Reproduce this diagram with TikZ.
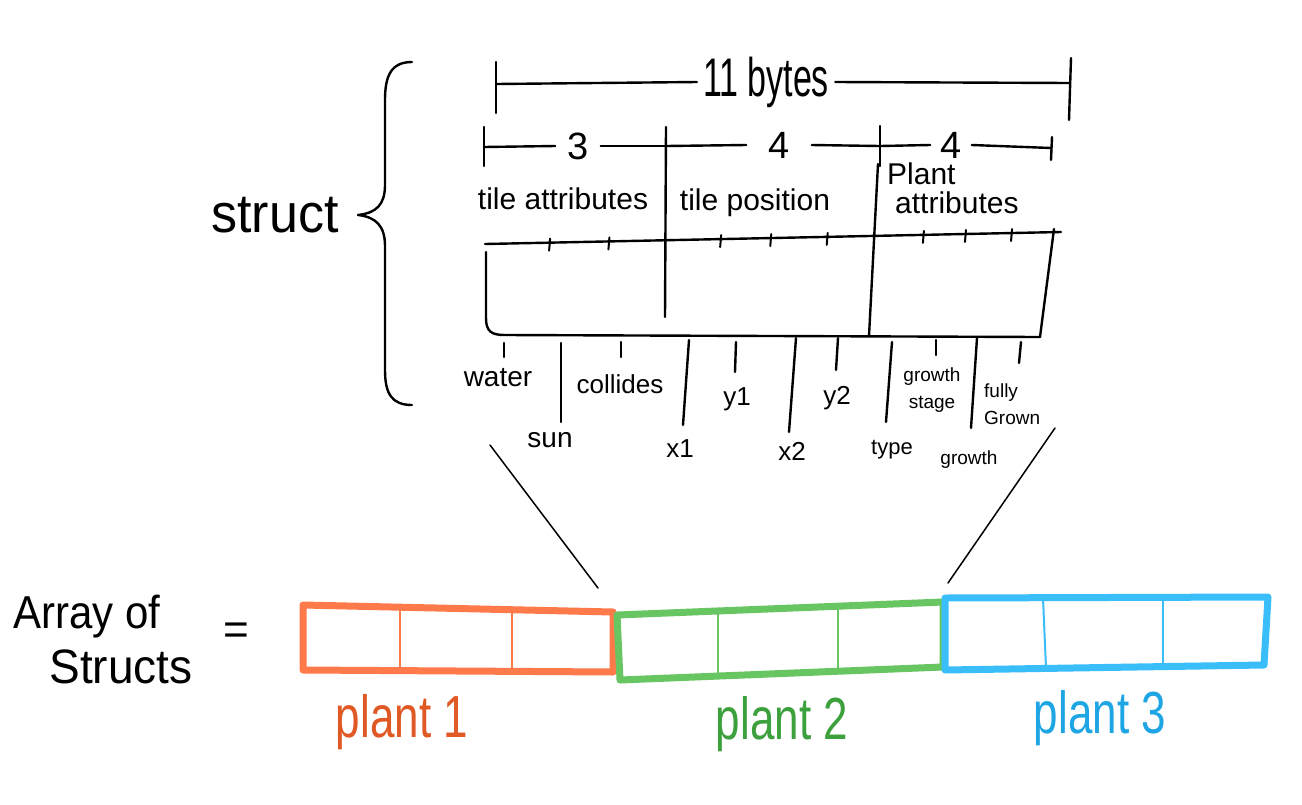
\documentclass[tikz,border=0pt]{standalone}
\usepackage{fontspec}
\setmainfont{Liberation Sans}
\usetikzlibrary{calc}
\definecolor{orangeA}{RGB}{255,122,74}
\definecolor{orangeT}{RGB}{224,88,36}
\definecolor{greenA}{RGB}{104,198,98}
\definecolor{greenT}{RGB}{60,160,60}
\definecolor{blueA}{RGB}{58,190,250}
\definecolor{blueT}{RGB}{30,165,228}
\newcommand{\tall}[2]{\scalebox{1}[#1]{#2}}
\begin{document}
\begin{tikzpicture}[x=1pt,y=-1pt,
  ink/.style={line width=2.4pt, line cap=round, line join=round},
  fine/.style={line width=1.5pt, line cap=round},
  txt/.style={inner sep=0pt, font=\fontsize{#1}{#1}\selectfont},
  two/.style={inner sep=0pt, align=left, font=\fontsize{19}{27}\selectfont},
  cell/.style={line width=7pt, line join=round, line cap=round},
  divider/.style={line width=2pt}]
\useasboundingbox (0,0) rectangle (1302,804);
\fill[white] (0,0) rectangle (1302,804);

% struct and brace
\node[txt=52] (struct) at (275,215) {\tall{1.05}{struct}};
\draw[ink] (412,62) .. controls (391,62) and (385,76) .. (385,100) -- (385,185)
  .. controls (385,205) and (376,213) .. (358,215)
  .. controls (376,217) and (385,226) .. (385,246) -- (385,370)
  .. controls (385,394) and (392,405) .. (412,405);

% 11 bytes dimension
\coordinate (bL) at (496,84);
\coordinate (bR) at (1070,83);
\node[txt=34, inner xsep=6pt] (bytes) at (766,82) {\tall{1.6}{11 bytes}};
\draw[ink] (bL) -- (bytes.west);
\draw[ink] (bytes.east) -- (bR);
\draw[ink] (496,62) -- (496,113);
\draw[ink] (1071,58) -- (1069,120);

% 3 / 4 / 4 dimension
\coordinate (t1) at (484,147);
\coordinate (t2) at (666,146);
\coordinate (t3) at (880,146);
\coordinate (t4) at (1051,148);
\node[txt=38, inner xsep=12pt] (n3) at (578,146) {3};
\node[txt=38, inner xsep=22pt] (n4a) at (779,145) {4};
\node[txt=38, inner xsep=10pt] (n4b) at (951,145) {4};
\draw[ink] (t1) -- (n3.west); \draw[ink] (n3.east) -- (t2);
\draw[ink] (t2) -- (n4a.west); \draw[ink] (n4a.east) -- (t3);
\draw[ink] (t3) -- (n4b.west); \draw[ink] (n4b.east) -- (t4);
\draw[ink] (484,127) -- (484,166);
\draw[ink] (666,127) -- (665,317);
\draw[ink] (880,126) -- (880,166);
\draw[ink] (1052,137) -- (1051,160);

% section labels
\node[txt=30] (tattr) at (563,199) {tile attributes};
\node[txt=30] (tpos) at (755,203) {tile position};
\node[txt=30, anchor=west] (pattr1) at (887,174) {Plant};
\node[txt=30, anchor=west] (pattr2) at (895,203) {attributes};

% the struct box
\coordinate (L) at (485,244);
\coordinate (R) at (1061,232);
\draw[ink] (L) -- (R);
\draw[ink] (486,252) -- (486,318) .. controls (486,332) and (492,335) .. (505,335) -- (1040,337);
\draw[ink] (1054,229) -- (1040,337);
\draw[ink] (878,164) -- (869,336);
\foreach \t in {0.113,0.216,0.410,0.497,0.595,0.762,0.835,0.915}
  \draw[line width=2pt, line cap=round] ($(L)!\t!(R)+(0,-4)$) -- ++(-1,12);

% field labels and their marks
\draw[ink] (504,343) -- (504,357);
\node[txt=28] (water) at (498,378) {water};
\draw[ink] (561,343) -- (561,422);
\node[txt=28] (sun) at (550,440) {sun};
\draw[ink] (621,342) -- (621,357);
\node[txt=26] (collides) at (620,384) {collides};
\draw[ink] (689,340) -- (683,425);
\node[txt=26] (x1) at (680,449) {x1};
\draw[ink] (736,342) -- (735,372);
\node[txt=26] (y1) at (737,399) {y1};
\draw[ink] (796,338) -- (789,432);
\node[txt=26] (x2) at (792,451) {x2};
\draw[ink] (838,338) -- (836,370);
\node[txt=26] (y2) at (837,398) {y2};
\draw[ink] (892,342) -- (886,422);
\node[txt=22] (type) at (892,450) {type};
\draw[ink] (936,340) -- (936,355);
\node[two, align=center] (gstage) at (932,390) {growth\\stage};
\draw[ink] (977,338) -- (971,428);
\node[txt=19] (growth) at (969,460) {growth};
\draw[ink] (1021,342) -- (1019,363);
\node[two, anchor=west] (fgrown) at (984,404) {fully\\Grown};

% zoom lines
\coordinate (zL1) at (490,445);
\coordinate (zL2) at (598,588);
\coordinate (zR1) at (1055,428);
\coordinate (zR2) at (948,583);
\draw[fine] (zL1) -- (zL2);
\draw[fine] (zR1) -- (zR2);

% array of structs
\node[txt=42] (arr1) at (87,617) {\tall{1.1}{Array of}};
\node[txt=46] (arr2) at (121,667) {\tall{1.05}{Structs}};
\node[txt=44] (eq) at (236,634) {=};

% orange
\draw[cell, orangeA] (303,605) -- (613,612) -- (613,672) -- (303,670) -- cycle;
\draw[divider, orangeA] (400,606) -- (400,670);
\draw[divider, orangeA] (512,609) -- (512,671);
% green
\draw[cell, greenA] (617,615) -- (943,602) -- (943,667) -- (620,680) -- cycle;
\draw[divider, greenA] (718,611) -- (718,676);
\draw[divider, greenA] (838,606) -- (838,672);
% blue
\draw[cell, blueA] (945,598) -- (1268,597) -- (1264,665) -- (945,670) -- cycle;
\draw[divider, blueA] (1043,598) -- (1046,668);
\draw[divider, blueA] (1163,597) -- (1163,666);

\node[txt=44, text=orangeT] (p1) at (402,722) {\tall{1.35}{plant 1}};
\node[txt=44, text=greenT] (p2) at (782,724) {\tall{1.35}{plant 2}};
\node[txt=44, text=blueT] (p3) at (1100,718) {\tall{1.35}{plant 3}};
\end{tikzpicture}
\end{document}
